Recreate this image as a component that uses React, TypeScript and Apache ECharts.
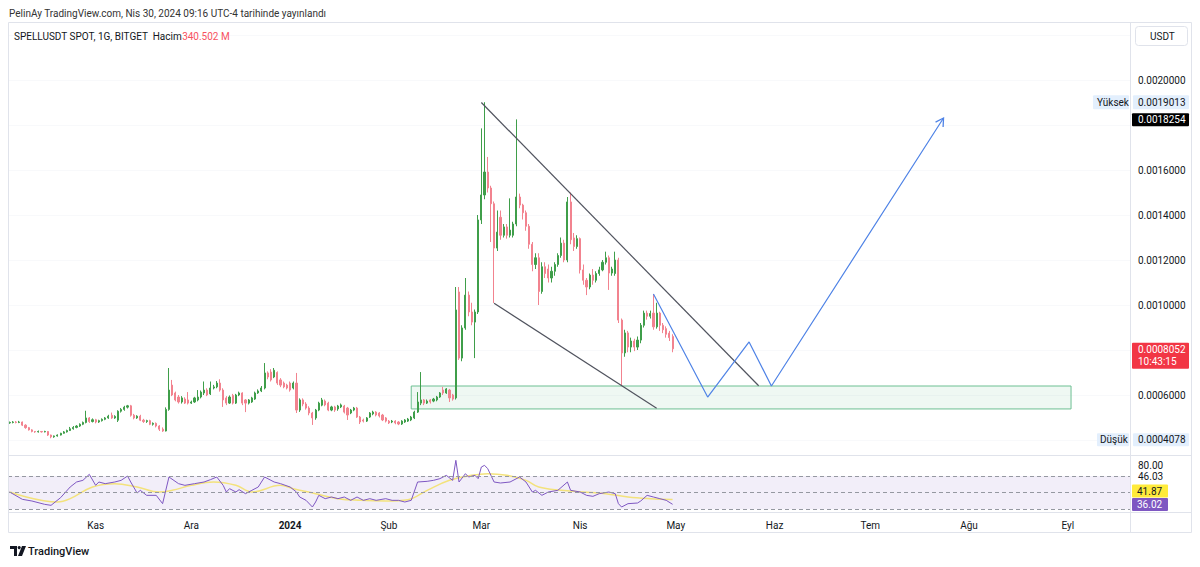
import React, { useEffect, useRef } from 'react';
import * as echarts from 'echarts';

const FONT = 'Roboto, "Noto Sans", sans-serif';

// daily categories, first candle 2023-10-05
const START = Date.UTC(2023, 9, 5);
const DAY_COUNT = 352;
const categories: string[] = [];
for (let d = 0; d < DAY_COUNT; d++) {
  categories.push(new Date(START + d * 86400000).toISOString().slice(0, 10));
}

const monthNames: Record<string, string> = {
  '01': '2024', '02': 'Şub', '03': 'Mar', '04': 'Nis', '05': 'May', '06': 'Haz',
  '07': 'Tem', '08': 'Ağu', '09': 'Eyl', '10': 'Eki', '11': 'Kas', '12': 'Ara',
};

// [open, close, low, high] in USDT, one per day from 2023-10-05 to 2024-04-30
const candles: number[][] = [
  [4.76e-4, 4.78e-4, 4.72e-4, 4.82e-4], [4.78e-4, 4.80e-4, 4.74e-4, 4.84e-4], [4.80e-4, 4.78e-4, 4.74e-4, 4.84e-4], [4.78e-4, 4.80e-4, 4.75e-4, 4.85e-4],
  [4.80e-4, 4.66e-4, 4.62e-4, 4.82e-4], [4.66e-4, 4.55e-4, 4.50e-4, 4.70e-4], [4.55e-4, 4.45e-4, 4.42e-4, 4.58e-4], [4.45e-4, 4.38e-4, 4.34e-4, 4.48e-4],
  [4.38e-4, 4.36e-4, 4.32e-4, 4.40e-4], [4.36e-4, 4.38e-4, 4.33e-4, 4.42e-4], [4.38e-4, 4.36e-4, 4.33e-4, 4.40e-4], [4.36e-4, 4.38e-4, 4.34e-4, 4.41e-4],
  [4.38e-4, 4.22e-4, 4.18e-4, 4.40e-4], [4.22e-4, 4.14e-4, 4.078e-4, 4.24e-4], [4.14e-4, 4.18e-4, 4.10e-4, 4.20e-4], [4.18e-4, 4.22e-4, 4.15e-4, 4.25e-4],
  [4.22e-4, 4.30e-4, 4.20e-4, 4.32e-4], [4.30e-4, 4.36e-4, 4.28e-4, 4.40e-4], [4.36e-4, 4.42e-4, 4.33e-4, 4.46e-4], [4.42e-4, 4.50e-4, 4.40e-4, 4.58e-4],
  [4.50e-4, 4.56e-4, 4.46e-4, 4.62e-4], [4.56e-4, 4.62e-4, 4.52e-4, 4.66e-4], [4.62e-4, 4.70e-4, 4.58e-4, 4.74e-4], [4.70e-4, 4.78e-4, 4.66e-4, 4.82e-4],
  [4.78e-4, 4.98e-4, 4.74e-4, 5.30e-4], [4.98e-4, 4.82e-4, 4.76e-4, 5.02e-4], [4.82e-4, 4.90e-4, 4.78e-4, 4.96e-4], [4.90e-4, 4.80e-4, 4.74e-4, 4.94e-4],
  [4.80e-4, 4.86e-4, 4.76e-4, 4.90e-4], [4.86e-4, 4.92e-4, 4.82e-4, 4.96e-4], [4.92e-4, 4.98e-4, 4.88e-4, 5.02e-4], [4.98e-4, 5.06e-4, 4.94e-4, 5.12e-4],
  [5.10e-4, 4.98e-4, 4.94e-4, 5.22e-4], [4.98e-4, 5.05e-4, 4.94e-4, 5.10e-4], [4.88e-4, 5.28e-4, 4.80e-4, 5.32e-4], [5.28e-4, 5.36e-4, 5.22e-4, 5.42e-4],
  [5.36e-4, 5.46e-4, 5.30e-4, 5.52e-4], [5.46e-4, 5.52e-4, 5.40e-4, 5.56e-4], [5.52e-4, 5.10e-4, 5.04e-4, 5.56e-4], [5.10e-4, 4.98e-4, 4.92e-4, 5.16e-4],
  [4.98e-4, 5.06e-4, 4.94e-4, 5.10e-4], [5.06e-4, 4.88e-4, 4.84e-4, 5.12e-4], [4.88e-4, 4.82e-4, 4.76e-4, 4.94e-4], [4.82e-4, 4.86e-4, 4.76e-4, 4.90e-4],
  [4.86e-4, 4.70e-4, 4.66e-4, 4.90e-4], [4.70e-4, 4.74e-4, 4.64e-4, 4.78e-4], [4.74e-4, 4.62e-4, 4.56e-4, 4.78e-4], [4.62e-4, 4.48e-4, 4.40e-4, 4.66e-4],
  [4.48e-4, 4.40e-4, 4.36e-4, 4.56e-4], [4.40e-4, 5.36e-4, 4.38e-4, 5.45e-4], [5.36e-4, 6.22e-4, 5.30e-4, 7.20e-4], [6.44e-4, 6.00e-4, 5.95e-4, 6.67e-4],
  [6.09e-4, 5.78e-4, 5.72e-4, 6.15e-4], [5.91e-4, 5.69e-4, 5.62e-4, 6.00e-4], [5.69e-4, 5.87e-4, 5.62e-4, 5.95e-4], [5.82e-4, 5.64e-4, 5.60e-4, 5.90e-4],
  [5.78e-4, 5.64e-4, 5.58e-4, 6.13e-4], [5.64e-4, 5.69e-4, 5.60e-4, 5.75e-4], [5.69e-4, 5.87e-4, 5.65e-4, 5.92e-4], [5.78e-4, 5.91e-4, 5.72e-4, 6.22e-4],
  [5.91e-4, 6.13e-4, 5.85e-4, 6.20e-4], [6.09e-4, 6.22e-4, 6.00e-4, 6.60e-4], [6.22e-4, 6.00e-4, 5.95e-4, 6.30e-4], [6.05e-4, 6.31e-4, 6.00e-4, 6.60e-4],
  [6.31e-4, 6.36e-4, 6.25e-4, 6.45e-4], [6.36e-4, 6.53e-4, 6.30e-4, 6.62e-4], [6.53e-4, 6.22e-4, 6.15e-4, 6.70e-4], [6.22e-4, 5.78e-4, 5.47e-4, 6.30e-4],
  [5.87e-4, 5.64e-4, 5.55e-4, 5.95e-4], [5.64e-4, 5.91e-4, 5.60e-4, 5.98e-4], [5.98e-4, 5.64e-4, 5.58e-4, 6.05e-4], [5.64e-4, 6.00e-4, 5.60e-4, 6.05e-4],
  [6.00e-4, 6.09e-4, 5.95e-4, 6.15e-4], [6.09e-4, 5.64e-4, 5.55e-4, 6.12e-4], [5.78e-4, 5.64e-4, 5.24e-4, 5.82e-4], [5.64e-4, 5.78e-4, 5.58e-4, 5.82e-4],
  [5.69e-4, 5.87e-4, 5.65e-4, 5.92e-4], [5.82e-4, 6.09e-4, 5.78e-4, 6.15e-4], [6.09e-4, 6.18e-4, 6.05e-4, 6.25e-4], [6.18e-4, 6.31e-4, 6.13e-4, 6.40e-4],
  [6.31e-4, 6.98e-4, 6.25e-4, 7.42e-4], [6.98e-4, 6.80e-4, 6.70e-4, 7.05e-4], [7.02e-4, 6.67e-4, 6.60e-4, 7.15e-4], [6.80e-4, 7.10e-4, 6.75e-4, 7.20e-4],
  [7.00e-4, 6.53e-4, 6.45e-4, 7.05e-4], [6.67e-4, 6.44e-4, 6.35e-4, 6.75e-4], [6.53e-4, 6.36e-4, 6.30e-4, 6.60e-4], [6.44e-4, 6.31e-4, 6.25e-4, 6.50e-4],
  [6.53e-4, 6.22e-4, 6.15e-4, 6.60e-4], [6.31e-4, 6.53e-4, 6.25e-4, 6.60e-4], [6.53e-4, 5.33e-4, 5.20e-4, 6.98e-4], [5.33e-4, 5.78e-4, 5.25e-4, 5.85e-4],
  [5.78e-4, 5.60e-4, 5.50e-4, 5.85e-4], [5.60e-4, 5.42e-4, 5.35e-4, 5.68e-4], [5.42e-4, 5.20e-4, 5.10e-4, 5.50e-4], [5.20e-4, 4.98e-4, 4.67e-4, 5.25e-4],
  [4.98e-4, 5.33e-4, 4.90e-4, 5.38e-4], [5.33e-4, 5.64e-4, 5.28e-4, 5.70e-4], [5.55e-4, 5.78e-4, 5.50e-4, 5.87e-4], [5.73e-4, 5.56e-4, 5.50e-4, 5.80e-4],
  [5.64e-4, 5.33e-4, 5.28e-4, 5.70e-4], [5.33e-4, 5.47e-4, 5.28e-4, 5.52e-4], [5.47e-4, 5.33e-4, 5.25e-4, 5.52e-4], [5.38e-4, 5.51e-4, 5.30e-4, 5.56e-4],
  [5.47e-4, 5.56e-4, 5.42e-4, 5.62e-4], [5.51e-4, 5.24e-4, 5.18e-4, 5.56e-4], [5.42e-4, 5.11e-4, 4.89e-4, 5.47e-4], [5.20e-4, 5.33e-4, 5.15e-4, 5.38e-4],
  [5.33e-4, 5.42e-4, 5.28e-4, 5.47e-4], [5.42e-4, 5.02e-4, 4.98e-4, 5.47e-4], [5.02e-4, 4.80e-4, 4.71e-4, 5.07e-4], [4.89e-4, 4.84e-4, 4.78e-4, 4.95e-4],
  [4.84e-4, 4.98e-4, 4.80e-4, 5.02e-4], [5.02e-4, 5.20e-4, 4.98e-4, 5.24e-4], [5.16e-4, 5.24e-4, 5.10e-4, 5.30e-4], [5.24e-4, 5.11e-4, 5.05e-4, 5.28e-4],
  [5.20e-4, 5.07e-4, 5.00e-4, 5.24e-4], [5.11e-4, 4.89e-4, 4.84e-4, 5.16e-4], [4.98e-4, 4.84e-4, 4.78e-4, 5.02e-4], [4.84e-4, 4.76e-4, 4.71e-4, 4.89e-4],
  [4.80e-4, 4.84e-4, 4.75e-4, 4.89e-4], [4.84e-4, 4.76e-4, 4.70e-4, 4.88e-4], [4.80e-4, 4.71e-4, 4.66e-4, 4.84e-4], [4.71e-4, 4.84e-4, 4.67e-4, 4.88e-4],
  [4.80e-4, 4.89e-4, 4.76e-4, 4.93e-4], [4.84e-4, 4.93e-4, 4.80e-4, 4.98e-4], [4.89e-4, 5.02e-4, 4.84e-4, 5.07e-4], [4.98e-4, 5.24e-4, 4.93e-4, 5.30e-4],
  [5.24e-4, 5.69e-4, 5.20e-4, 6.13e-4], [5.64e-4, 5.78e-4, 5.55e-4, 7.02e-4], [5.78e-4, 5.64e-4, 5.55e-4, 5.82e-4], [5.64e-4, 5.73e-4, 5.60e-4, 5.80e-4],
  [5.78e-4, 5.69e-4, 5.62e-4, 5.82e-4], [5.73e-4, 5.82e-4, 5.68e-4, 5.87e-4], [5.78e-4, 5.91e-4, 5.72e-4, 5.96e-4], [5.91e-4, 6.09e-4, 5.87e-4, 6.13e-4],
  [6.22e-4, 6.09e-4, 6.00e-4, 6.36e-4], [6.09e-4, 6.27e-4, 6.05e-4, 6.31e-4], [6.22e-4, 5.87e-4, 5.69e-4, 6.27e-4], [6.00e-4, 5.82e-4, 5.75e-4, 6.05e-4],
  [5.87e-4, 9.78e-4, 5.80e-4, 10.80e-4], [10.58e-4, 7.64e-4, 7.56e-4, 10.80e-4], [7.64e-4, 8.98e-4, 7.50e-4, 9.10e-4], [8.98e-4, 10.44e-4, 8.90e-4, 11.20e-4],
  [10.44e-4, 9.69e-4, 9.50e-4, 10.60e-4], [9.69e-4, 9.24e-4, 9.10e-4, 10.10e-4], [9.24e-4, 9.69e-4, 7.64e-4, 9.80e-4], [9.69e-4, 13.78e-4, 9.60e-4, 14.00e-4],
  [13.78e-4, 14.89e-4, 13.60e-4, 17.85e-4], [14.89e-4, 15.91e-4, 14.70e-4, 19.013e-4], [15.91e-4, 15.20e-4, 15.00e-4, 16.58e-4], [15.20e-4, 14.50e-4, 12.80e-4, 15.30e-4],
  [14.50e-4, 12.53e-4, 10.09e-4, 14.60e-4], [12.53e-4, 13.24e-4, 12.40e-4, 14.20e-4], [13.90e-4, 13.10e-4, 12.90e-4, 14.20e-4], [13.10e-4, 13.47e-4, 13.00e-4, 13.60e-4],
  [13.47e-4, 13.10e-4, 12.95e-4, 13.60e-4], [13.10e-4, 13.33e-4, 13.00e-4, 14.74e-4], [13.10e-4, 13.60e-4, 13.00e-4, 13.70e-4], [13.60e-4, 14.80e-4, 13.50e-4, 18.25e-4],
  [14.80e-4, 14.44e-4, 14.30e-4, 14.95e-4], [14.44e-4, 14.10e-4, 13.80e-4, 14.50e-4], [14.10e-4, 13.50e-4, 13.30e-4, 14.20e-4], [13.50e-4, 12.70e-4, 12.50e-4, 13.60e-4],
  [12.70e-4, 11.80e-4, 11.50e-4, 12.80e-4], [11.80e-4, 12.10e-4, 11.60e-4, 12.30e-4], [12.10e-4, 10.60e-4, 10.00e-4, 12.30e-4], [10.60e-4, 11.70e-4, 10.50e-4, 11.90e-4],
  [11.70e-4, 11.40e-4, 11.20e-4, 11.90e-4], [11.60e-4, 11.20e-4, 11.00e-4, 11.80e-4], [11.20e-4, 11.50e-4, 11.00e-4, 11.70e-4], [11.50e-4, 11.80e-4, 11.30e-4, 11.90e-4],
  [11.80e-4, 12.20e-4, 11.70e-4, 12.30e-4], [12.20e-4, 12.75e-4, 12.10e-4, 13.00e-4], [12.75e-4, 12.00e-4, 11.90e-4, 12.90e-4], [12.00e-4, 14.58e-4, 11.90e-4, 14.80e-4],
  [14.58e-4, 12.90e-4, 12.70e-4, 15.00e-4], [12.98e-4, 12.60e-4, 12.40e-4, 13.20e-4], [12.60e-4, 12.95e-4, 12.50e-4, 13.10e-4], [12.95e-4, 11.56e-4, 11.40e-4, 13.00e-4],
  [11.56e-4, 11.10e-4, 10.90e-4, 11.80e-4], [11.10e-4, 10.80e-4, 10.44e-4, 11.20e-4], [10.80e-4, 11.33e-4, 10.70e-4, 11.40e-4], [11.33e-4, 11.10e-4, 10.90e-4, 11.60e-4],
  [11.10e-4, 11.40e-4, 11.00e-4, 11.50e-4], [11.40e-4, 11.56e-4, 11.30e-4, 11.70e-4], [11.56e-4, 11.90e-4, 11.50e-4, 12.00e-4], [11.90e-4, 12.10e-4, 11.80e-4, 12.37e-4],
  [12.10e-4, 11.42e-4, 10.67e-4, 12.20e-4], [11.42e-4, 11.60e-4, 11.30e-4, 11.70e-4], [11.40e-4, 12.00e-4, 11.30e-4, 12.37e-4], [12.00e-4, 9.33e-4, 9.20e-4, 12.10e-4],
  [9.33e-4, 7.87e-4, 6.44e-4, 9.40e-4], [7.87e-4, 8.76e-4, 7.70e-4, 8.90e-4], [8.76e-4, 8.13e-4, 7.90e-4, 8.85e-4], [8.13e-4, 8.40e-4, 7.90e-4, 8.55e-4],
  [8.40e-4, 8.13e-4, 7.95e-4, 8.50e-4], [8.13e-4, 8.44e-4, 8.00e-4, 8.60e-4], [8.44e-4, 9.10e-4, 8.30e-4, 9.20e-4], [9.10e-4, 9.64e-4, 9.00e-4, 9.75e-4],
  [9.64e-4, 9.50e-4, 9.35e-4, 9.75e-4], [9.50e-4, 9.62e-4, 9.40e-4, 9.75e-4], [9.64e-4, 9.03e-4, 8.90e-4, 10.49e-4], [9.03e-4, 9.64e-4, 8.95e-4, 10.10e-4],
  [9.64e-4, 9.10e-4, 8.85e-4, 9.70e-4], [9.10e-4, 8.90e-4, 8.75e-4, 9.20e-4], [8.95e-4, 8.70e-4, 8.55e-4, 9.05e-4], [8.75e-4, 8.55e-4, 8.40e-4, 8.85e-4],
  [8.60e-4, 8.052e-4, 7.90e-4, 8.70e-4],
];

// RSI(14) readings: [day index, value]
const rsi: number[][] = [
  [0, 50.8], [4, 42], [7, 40], [11, 36], [13, 34.8], [16, 44], [19, 56.8], [21, 62.8], [23, 64.8], [25, 72],
  [27, 58.8], [28, 62.8], [30, 60.8], [33, 62.8], [35, 64.8], [37, 70], [38, 62.8], [40, 49.6], [41, 52.8], [43, 46.8],
  [46, 46.8], [48, 36.8], [50, 68.8], [53, 60.8], [55, 58.8], [58, 60.8], [61, 62.8], [63, 65.6], [65, 68.8], [67, 58.8],
  [68, 50.8], [69, 54.8], [71, 50.8], [72, 53.6], [74, 48.8], [76, 52.8], [78, 56.8], [80, 68.8], [82, 64.8], [83, 62.8],
  [85, 60.8], [88, 56.8], [90, 50.8], [91, 44.8], [93, 40.8], [95, 32.8], [96, 38.8], [97, 46.8], [99, 42.8], [101, 44.8],
  [103, 42.8], [105, 44.8], [107, 40.8], [109, 44.8], [111, 40.8], [113, 42.8], [115, 40.8], [118, 42.8], [120, 40.8], [122, 40.8],
  [124, 38.8], [126, 40.8], [128, 62.8], [131, 63.6], [133, 64.8], [135, 66.8], [137, 70.8], [139, 64.8], [140, 88.8], [141, 62.8],
  [143, 72.8], [144, 68.8], [146, 70.8], [147, 66.8], [148, 80.8], [149, 82.8], [150, 78.8], [152, 62.8], [154, 61.6], [157, 62.8],
  [160, 68.8], [162, 62.8], [164, 50.8], [165, 52.8], [167, 46.8], [169, 50.8], [172, 52.8], [175, 62.8], [176, 52.8], [179, 50.8],
  [181, 46.8], [183, 45.6], [185, 48.8], [188, 50.8], [190, 48.8], [191, 36.8], [192, 32.8], [194, 36.8], [197, 37.6], [198, 40],
  [200, 46.8], [202, 44.8], [204, 42.8], [206, 40.8], [208, 36.02],
];

// moving average of RSI
const rsiMa: number[][] = [
  [0, 50.8], [15, 38.8], [19, 42.8], [26, 56.8], [33, 60.8], [40, 56.8], [47, 50.8], [51, 52.8], [57, 58.8], [64, 62.8],
  [71, 58.8], [76, 50.8], [85, 58.8], [89, 54.8], [96, 48.8], [103, 42.8], [110, 40.8], [118, 40], [125, 41.6], [131, 52.8],
  [138, 64.8], [145, 70.8], [150, 72.8], [156, 70.8], [162, 64.8], [166, 56.8], [173, 52.8], [180, 50.8], [187, 48.8], [194, 44.8],
  [201, 42.8], [208, 41.87],
];

// drawings: [day index, price]
const upperTrend = [[148, 0.00190], [235, 0.000641]];
const lowerTrend = [[152, 0.001008], [203, 0.000541]];
const projection = [[202, 0.001049], [219, 0.000591], [232, 0.000836], [239, 0.000640], [293, 0.001831]];
const zoneX = [126, 333];
const zoneY = [0.000640, 0.000538];
const resistance = 0.0018254;
const highPrice = 0.0019013;
const lowPrice = 0.0004078;
const lastPrice = 0.0008052;
const countdown = '10:43:15';
const rsiBands = [70, 50, 30];
const rsiScale = [26.8, 92.8];
const priceScale = [0.0004, 0.0022, 0.0002];
const hiddenPriceTicks = [4, 8, 18, 22];

const UP = '#3f9e4a';
const DOWN = '#f2838f';
const BLUE = '#4f83e6';
const TEXT = '#131722';

echarts.graphic.registerShape(
  'tvlogo',
  echarts.graphic.extendPath('M0 0H7V10H4V3H0Z M12 0H16L12 10H8Z', {}) as any
);

export default function App() {
  const ref = useRef<HTMLDivElement>(null);
  useEffect(() => {
    document.body.style.margin = '0';
    const chart = echarts.init(ref.current!, null, { renderer: 'svg' });
    const option: any = {
      animation: false,
      backgroundColor: '#ffffff',
      textStyle: { fontFamily: FONT },
      grid: [
        { left: 8, right: 70, top: 35, bottom: 127 },
        { left: 8, right: 70, top: 457, bottom: 55 },
      ],
      xAxis: [
        {
          type: 'category', gridIndex: 0, data: categories, boundaryGap: true,
          axisLine: { show: false }, axisTick: { show: false }, axisLabel: { show: false }, splitLine: { show: false },
        },
        {
          type: 'category', gridIndex: 1, data: categories, boundaryGap: true,
          axisLine: { show: false }, axisTick: { show: false }, splitLine: { show: false },
          axisLabel: {
            interval: (_i: number, v: string) => v.endsWith('-01'),
            formatter: (v: string) => {
              const m = v.slice(5, 7);
              return m === '01' ? '{y|' + v.slice(0, 4) + '}' : monthNames[m];
            },
            color: TEXT, fontSize: 10, margin: 8, fontFamily: FONT,
            rich: { y: { fontWeight: 'bold', fontSize: 10, color: TEXT, fontFamily: FONT } },
          },
        },
      ],
      yAxis: [
        {
          type: 'value', gridIndex: 0, position: 'right',
          min: priceScale[0], max: priceScale[1], interval: priceScale[2],
          axisLine: { show: false }, axisTick: { show: false },
          splitLine: { lineStyle: { color: '#f8f9fb', width: 1 } },
          axisLabel: {
            color: TEXT, fontSize: 10, margin: 8, fontFamily: FONT,
            formatter: (v: number) => (hiddenPriceTicks.includes(Math.round(v * 10000)) ? '' : v.toFixed(7)),
          },
        },
        {
          type: 'value', gridIndex: 1, position: 'right', min: rsiScale[0], max: rsiScale[1],
          axisLine: { show: false }, axisTick: { show: false }, axisLabel: { show: false }, splitLine: { show: false },
        },
      ],
      series: [
        {
          type: 'candlestick', xAxisIndex: 0, yAxisIndex: 0, data: candles, barWidth: 1.6,
          itemStyle: { color: UP, color0: DOWN, borderColor: UP, borderColor0: DOWN, borderWidth: 1 },
          markArea: {
            silent: true,
            itemStyle: { color: 'rgba(102,187,138,0.10)', borderColor: '#6dbf92', borderWidth: 1 },
            data: [[
              { xAxis: categories[zoneX[0]], yAxis: zoneY[0] },
              { xAxis: categories[zoneX[1]], yAxis: zoneY[1] },
            ]],
          },
          markLine: {
            silent: true, symbol: ['none', 'none'], label: { show: false },
            lineStyle: { color: '#000000', type: [4, 3], width: 1 },
            data: [{ yAxis: resistance }],
          },
        },
        {
          type: 'line', xAxisIndex: 0, yAxisIndex: 0, data: upperTrend, symbol: 'none',
          lineStyle: { color: '#50535e', width: 1.2 }, z: 3,
        },
        {
          type: 'line', xAxisIndex: 0, yAxisIndex: 0, data: lowerTrend, symbol: 'none',
          lineStyle: { color: '#50535e', width: 1.2 }, z: 3,
        },
        {
          type: 'line', xAxisIndex: 0, yAxisIndex: 0, data: projection, symbol: 'none',
          lineStyle: { color: BLUE, width: 1.2 }, z: 3,
        },
        {
          type: 'custom', xAxisIndex: 0, yAxisIndex: 0, z: 4,
          data: [[projection[4][0], projection[4][1], projection[3][0], projection[3][1]]],
          encode: { x: 0, y: 1 },
          renderItem: (_p: any, api: any) => {
            const tip = api.coord([api.value(0), api.value(1)]);
            const from = api.coord([api.value(2), api.value(3)]);
            const ang = Math.atan2(tip[1] - from[1], tip[0] - from[0]);
            const L = 9, a = Math.PI / 6;
            return {
              type: 'polyline',
              shape: {
                points: [
                  [tip[0] - L * Math.cos(ang - a), tip[1] - L * Math.sin(ang - a)],
                  tip,
                  [tip[0] - L * Math.cos(ang + a), tip[1] - L * Math.sin(ang + a)],
                ],
              },
              style: { stroke: BLUE, fill: 'none', lineWidth: 1.3 },
            };
          },
        },
        {
          type: 'line', xAxisIndex: 1, yAxisIndex: 1, data: rsiMa, symbol: 'none', smooth: 0.4,
          lineStyle: { color: '#f3e27c', width: 1.5 },
        },
        {
          type: 'line', xAxisIndex: 1, yAxisIndex: 1, data: rsi, symbol: 'none',
          lineStyle: { color: '#7e57c2', width: 1 }, z: 3,
          markArea: {
            silent: true, itemStyle: { color: 'rgba(126,87,194,0.10)' },
            data: [[{ yAxis: rsiBands[0] }, { yAxis: rsiBands[2] }]],
          },
          markLine: {
            silent: true, symbol: ['none', 'none'], label: { show: false },
            lineStyle: { color: '#9598a1', type: [4, 3], width: 1 },
            data: rsiBands.map((b) => ({ yAxis: b })),
          },
        },
      ],
    };
    chart.setOption(option);

    const py = (v: number) => chart.convertToPixel({ yAxisIndex: 0 } as any, v) as unknown as number;
    const yh = py(highPrice);
    const yr = py(resistance);
    const yl = py(lastPrice);
    const yd = py(lowPrice);
    const txt = (x: number, y: number, text: string, fill: string, extra: any = {}) => ({
      type: 'text', x, y, z: 101,
      style: { text, fill, fontSize: 10, fontFamily: FONT, align: 'left', verticalAlign: 'middle', ...extra },
    });
    const box = (x: number, y: number, w: number, h: number, fill: string) => ({
      type: 'rect', z: 100, shape: { x, y, width: w, height: h, r: 1 }, style: { fill },
    });
    const ln = (x1: number, y1: number, x2: number, y2: number) => ({
      type: 'line', z: 99, shape: { x1, y1, x2, y2 }, style: { stroke: '#e0e3eb', lineWidth: 1 },
    });

    chart.setOption({
      graphic: [
        { type: 'rect', z: 98, shape: { x: 8.5, y: 22.5, width: 1183, height: 510 }, style: { fill: 'none', stroke: '#e0e3eb', lineWidth: 1 } },
        ln(8, 455.5, 1192, 455.5),
        ln(8, 512.5, 1192, 512.5),
        ln(1130.5, 22, 1130.5, 533),
        txt(9, 13, 'PelinAy TradingView.com, Nis 30, 2024 09:16 UTC-4 tarihinde yayınlandı', '#333333'),
        {
          type: 'text', x: 14, y: 36, z: 101,
          style: {
            text: '{a|SPELLUSDT SPOT, 1G, BITGET  Hacim}{b|340.502 M}',
            verticalAlign: 'middle', align: 'left',
            rich: {
              a: { fill: TEXT, fontSize: 10, fontFamily: FONT },
              b: { fill: '#f7525f', fontSize: 10, fontFamily: FONT },
            },
          },
        },
        { type: 'rect', z: 100, shape: { x: 1135.5, y: 26.5, width: 52, height: 19, r: 3 }, style: { fill: '#fff', stroke: '#e0e3eb' } },
        txt(1150, 36, 'USDT', TEXT),
        box(1093, yh - 7, 36, 14, '#e3effd'),
        txt(1097, yh, 'Yüksek', TEXT),
        box(1133, yh - 7, 56, 14, '#e3effd'),
        txt(1138, yh, highPrice.toFixed(7), TEXT),
        box(1132, yr - 6, 57, 13, '#000000'),
        txt(1138, yr + 0.5, resistance.toFixed(7), '#ffffff'),
        box(1132, yl - 6, 57, 26, '#f23645'),
        txt(1138, yl + 0.5, lastPrice.toFixed(7), '#ffffff'),
        txt(1138, yl + 13, countdown, '#ffffff'),
        box(1097, yd - 5, 32, 13, '#e3effd'),
        txt(1100, yd + 1.5, 'Düşük', TEXT),
        box(1133, yd - 5, 56, 13, '#e3effd'),
        txt(1138, yd + 1.5, lowPrice.toFixed(7), TEXT),
        txt(1138, 465, '80.00', TEXT),
        txt(1138, 476, '46.03', TEXT),
        box(1132, 484.5, 36, 13, '#ffeb3b'),
        txt(1137, 491, '41.87', TEXT),
        box(1132, 498, 36, 13, '#7e57c2'),
        txt(1137, 504.5, '36.02', '#ffffff'),
        { type: 'tvlogo', x: 10, y: 546, z: 101, scaleX: 1, scaleY: 1, style: { fill: TEXT } },
        { type: 'circle', z: 101, shape: { cx: 10 + 9.2, cy: 546 + 1.6, r: 1.6 }, style: { fill: TEXT } },
        txt(28, 551, 'TradingView', TEXT, { fontSize: 11, fontWeight: 500 }),
      ],
    });

    return () => chart.dispose();
  }, []);
  return <div ref={ref} style={{ width: 1200, height: 567 }} />;
}
